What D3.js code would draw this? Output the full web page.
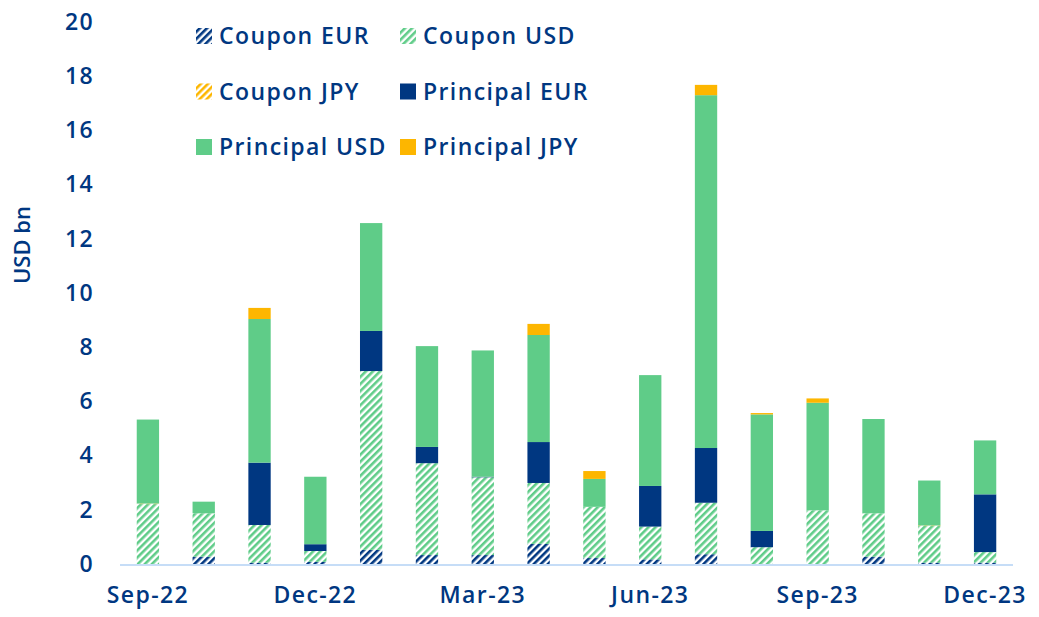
<!DOCTYPE html>
<html><head><meta charset="utf-8">
<script src="https://cdn.jsdelivr.net/npm/d3@7"></script>
<style>
body{margin:0;background:#fff;}
text{font-family:"Open Sans",sans-serif;font-weight:600;fill:#003781;}
</style></head>
<body>
<svg id="chart" width="1039" height="617"></svg>
<script>
const months = ["Sep-22","Oct-22","Nov-22","Dec-22","Jan-23","Feb-23","Mar-23","Apr-23","May-23","Jun-23","Jul-23","Aug-23","Sep-23","Oct-23","Nov-23","Dec-23"];
const tickMonths = ["Sep-22","Dec-22","Mar-23","Jun-23","Sep-23","Dec-23"];
const yTicks = [0,2,4,6,8,10,12,14,16,18,20];
const couponEUR    = [0.00,0.27,0.05,0.08,0.52,0.33,0.33,0.74,0.22,0.17,0.36,0.00,0.00,0.27,0.05,0.05];
const couponUSD    = [2.21,1.60,1.39,0.40,6.60,3.39,2.87,2.25,1.89,1.21,1.90,0.62,1.98,1.60,1.35,0.39];
const couponJPY    = [0.02,0.00,0.00,0.00,0.00,0.00,0.00,0.00,0.00,0.00,0.00,0.00,0.00,0.00,0.02,0.00];
const principalEUR = [0.00,0.00,2.30,0.25,1.48,0.60,0.02,1.51,0.00,1.50,2.02,0.60,0.00,0.00,0.00,2.13];
const principalUSD = [3.10,0.43,5.30,2.49,3.98,3.72,4.66,3.95,1.03,4.09,13.02,4.30,3.97,3.48,1.66,1.99];
const principalJPY = [0.00,0.00,0.41,0.00,0.00,0.00,0.00,0.41,0.29,0.00,0.38,0.05,0.16,0.00,0.00,0.00];

const seriesNames = ["Coupon EUR","Coupon USD","Coupon JPY","Principal EUR","Principal USD","Principal JPY"];
const seriesData = [couponEUR,couponUSD,couponJPY,principalEUR,principalUSD,principalJPY];

const svg = d3.select("#chart");
const defs = svg.append("defs");
const pats = [["hEUR","#003781"],["hUSD","#5fcc88"],["hJPY","#fdb600"]];
pats.forEach(([id,c])=>{
  const p = defs.append("pattern").attr("id",id).attr("patternUnits","userSpaceOnUse")
    .attr("width",5).attr("height",5).attr("patternTransform","rotate(45)");
  p.append("rect").attr("width",5).attr("height",5).attr("fill","#fff");
  p.append("rect").attr("width",2.6).attr("height",5).attr("fill",c);
});
const fills = ["url(#hEUR)","url(#hUSD)","url(#hJPY)","#003781","#5fcc88","#fdb600"];

const x = d3.scaleBand().domain(months).range([120,1013]).paddingInner(0.6).paddingOuter(0.3);
const y = d3.scaleLinear().domain([0,20]).range([564,22]);

const table = months.map((m,i)=>{const o={month:m}; seriesNames.forEach((s,j)=>o[s]=seriesData[j][i]); return o;});
const stacked = d3.stack().keys(seriesNames)(table);

svg.append("g").selectAll("g").data(stacked).join("g")
  .attr("fill",(d,i)=>fills[i])
  .selectAll("rect").data(d=>d).join("rect")
  .attr("x",d=>x(d.data.month)).attr("width",x.bandwidth())
  .attr("y",d=>y(d[1])).attr("height",d=>Math.max(0,y(d[0])-y(d[1])));

// baseline
svg.append("line").attr("x1",120).attr("x2",1013).attr("y1",y(0)+1).attr("y2",y(0)+1)
  .attr("stroke","#c6ddf7").attr("stroke-width",2);

const lblStyle = sel => sel.style("font-size","23px").style("fill","#003781")
  .style("font-family","'Open Sans',sans-serif").style("font-weight","600").style("letter-spacing","1.4px");

// y axis
const yAxis = d3.axisLeft(y).tickValues(yTicks).tickSize(0).tickPadding(0);
const gy = svg.append("g").attr("transform","translate(94,0)").call(yAxis);
gy.select(".domain").remove();
gy.selectAll("text").call(lblStyle);

// x axis
const xAxis = d3.axisBottom(x).tickValues(tickMonths).tickSize(0).tickPadding(0);
const gx = svg.append("g").attr("transform","translate(0,587)").call(xAxis);
gx.select(".domain").remove();
gx.selectAll("text").call(lblStyle);

// y title
svg.append("text").attr("transform","translate(30,245) rotate(-90)").attr("text-anchor","middle")
  .style("font-size","22px").text("USD bn");

// legend
const leg = svg.append("g");
seriesNames.forEach((s,i)=>{
  const col = i%2, row = Math.floor(i/2);
  const lx = col===0?196:400, ly = 36 + row*55.5;
  leg.append("rect").attr("x",lx).attr("y",ly-8).attr("width",16).attr("height",16).attr("fill",fills[i]);
  leg.append("text").attr("x",lx+23).attr("y",ly).attr("dy","0.35em").call(lblStyle).text(s);
});
</script>
</body></html>
